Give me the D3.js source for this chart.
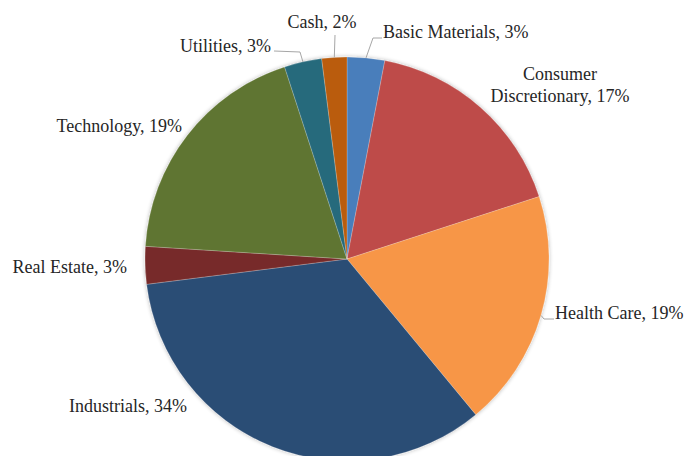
<!DOCTYPE html>
<html><head><meta charset="utf-8">
<script src="https://cdn.jsdelivr.net/npm/d3@7"></script>
<style>html,body{margin:0;padding:0;background:#fff;}svg{display:block;}</style>
</head><body>
<svg id="chart" width="691" height="456"></svg>
<script>
const categories = ["Basic Materials","Consumer Discretionary","Health Care","Industrials","Real Estate","Technology","Utilities","Cash"];
const values = [3,17,19,34,3,19,3,2];
const colors = ["#4A7EBB","#BE4B48","#F79646","#2C4D75","#772C2A","#5F7530","#276A7C","#BA5C0C"];

// label layout (text anchor point of last line, lines)
const labelLayout = {
  "Basic Materials": {x:383, y:38, anchor:"start", lines:["Basic Materials, 3%"], leader:[[373,38],[382,38]]},
  "Consumer Discretionary": {x:560, y:102, anchor:"middle", lines:["Consumer","Discretionary, 17%"]},
  "Health Care": {x:555, y:319, anchor:"start", lines:["Health Care, 19%"], leader:[[544,319],[554,319]]},
  "Industrials": {x:187, y:412, anchor:"end", lines:["Industrials, 34%"]},
  "Real Estate": {x:127, y:273, anchor:"end", lines:["Real Estate, 3%"]},
  "Technology": {x:182, y:132, anchor:"end", lines:["Technology, 19%"]},
  "Utilities": {x:271, y:52, anchor:"end", lines:["Utilities, 3%"], leader:[[300,52],[274,51]]},
  "Cash": {x:322, y:28, anchor:"middle", lines:["Cash, 2%"], leader:[[335,35],[335,35]]}
};

const svg = d3.select("#chart");
const cx = 347, cy = 259, R = 202;
const defs = svg.append("defs");
const f = defs.append("filter").attr("id","sh").attr("x","-10%").attr("y","-10%").attr("width","120%").attr("height","120%");
f.append("feGaussianBlur").attr("in","SourceAlpha").attr("stdDeviation",2).attr("result","b");
f.append("feComponentTransfer").attr("in","b").attr("result","t").append("feFuncA").attr("type","linear").attr("slope",0.3);
const m = f.append("feMerge"); m.append("feMergeNode").attr("in","t"); m.append("feMergeNode").attr("in","SourceGraphic");

const data = categories.map((c,i)=>({cat:c, value:values[i], color:colors[i]}));
const pie = d3.pie().value(d=>d.value).sort(null);
const arcs = pie(data);
const arc = d3.arc().innerRadius(0).outerRadius(R);

const g = svg.append("g").attr("transform",`translate(${cx},${cy})`);
g.append("g").attr("filter","url(#sh)").selectAll("path").data(arcs).join("path")
  .attr("d",arc).attr("fill",d=>d.data.color)
  .attr("stroke","#ffffff").attr("stroke-opacity",0.35).attr("stroke-width",0.6);

// leader lines
arcs.forEach(a=>{
  const L = labelLayout[a.data.cat];
  if(!L.leader) return;
  const mid = (a.startAngle+a.endAngle)/2;
  const px = cx + Math.sin(mid)*R, py = cy - Math.cos(mid)*R;
  const pts = [[px,py]].concat(L.leader);
  svg.append("path").attr("d", d3.line()(pts)).attr("fill","none").attr("stroke","#a6a6a6").attr("stroke-width",1);
});

// labels
arcs.forEach(a=>{
  const L = labelLayout[a.data.cat];
  const t = svg.append("text").attr("x",L.x).attr("y",L.y).attr("text-anchor",L.anchor)
    .attr("font-family","'Liberation Serif','DejaVu Serif',serif").attr("font-size",18).attr("fill","#262626");
  L.lines.forEach((ln,i)=>{
    const y = L.y - (L.lines.length-1-i)*22;
    t.append("tspan").attr("x",L.x).attr("y",y).text(ln);
  });
});
</script>
</body></html>
